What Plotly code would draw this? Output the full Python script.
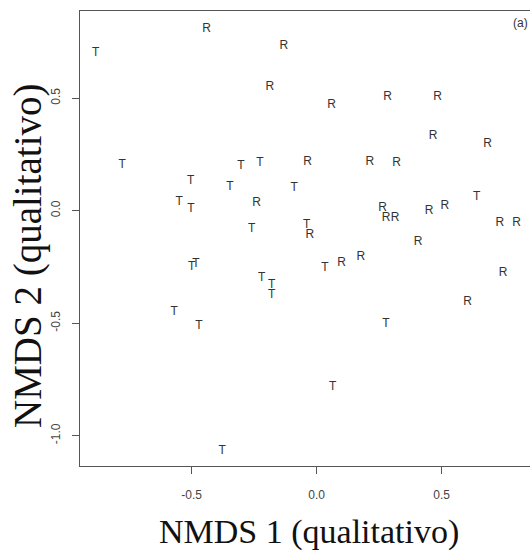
import plotly.graph_objects as go

# NMDS scores
t_x = [-0.884, -0.778, -0.504, -0.550, -0.503, -0.347, -0.303, -0.227, -0.260,
       -0.500, -0.483, -0.220, -0.180, -0.180, -0.090, 0.640, -0.040, 0.033,
       -0.570, -0.471, -0.378, 0.277, 0.064]
t_y = [0.700, 0.203, 0.132, 0.039, 0.006, 0.104, 0.199, 0.213, -0.081,
       -0.249, -0.238, -0.300, -0.330, -0.375, 0.100, 0.062, -0.064, -0.256,
       -0.452, -0.512, -1.068, -0.504, -0.782]

r_x = [-0.440, -0.131, -0.187, 0.060, 0.284, 0.484, 0.466, 0.684, -0.036,
       0.213, 0.320, -0.240, 0.264, 0.278, 0.314, 0.450, 0.513, 0.733, 0.800,
       -0.027, 0.406, 0.100, 0.177, 0.746, 0.604]
r_y = [0.806, 0.732, 0.551, 0.470, 0.507, 0.504, 0.332, 0.296, 0.215,
       0.215, 0.211, 0.033, 0.011, -0.031, -0.031, 0.000, 0.022, -0.053, -0.053,
       -0.108, -0.138, -0.234, -0.204, -0.278, -0.407]

x_ticks = [-0.5, 0.0, 0.5]
y_ticks = [-1.0, -0.5, 0.0, 0.5]

W, H = 530, 553
L, T, B, R = 80, 11, 87, 0
PW, PH = W - L - R, H - T - B


def px(xp):
    return (xp - L) / PW


def py(yp):
    return (H - B - yp) / PH


fig = go.Figure()
fig.add_trace(go.Scatter(x=t_x, y=t_y, mode="text", text=["T"] * len(t_x),
                         textposition="middle center",
                         textfont=dict(family="Liberation Sans", size=12, color="#333333"),
                         hoverinfo="skip", showlegend=False))
fig.add_trace(go.Scatter(x=r_x, y=r_y, mode="text", text=["R"] * len(r_x),
                         textposition="middle center",
                         textfont=dict(family="Liberation Sans", size=12, color="#333333"),
                         hoverinfo="skip", showlegend=False))

axis_common = dict(showgrid=False, zeroline=False, showline=True, linecolor="#555555",
                   linewidth=1.3, ticks="outside", ticklen=7, tickwidth=1, tickcolor="#555555",
                   tickfont=dict(family="Liberation Sans", size=12, color="#444444"))

fig.update_xaxes(range=[-0.9468, 0.8532], tickvals=x_ticks,
                 ticktext=[f"{v:.1f}" for v in x_ticks], mirror=True,
                 ticklabelstandoff=10, **axis_common)
fig.update_yaxes(range=[-1.1347, 0.8876], tickvals=y_ticks,
                 ticktext=[f"{v:.1f}" for v in y_ticks], mirror=False,
                 tickangle=-90, ticklabelstandoff=7, **axis_common)

fig.add_annotation(text="NMDS 1 (qualitativo)", xref="paper", yref="paper",
                   x=px(309), y=py(532), xanchor="center", yanchor="middle", showarrow=False,
                   font=dict(family="Liberation Serif", size=34, color="#111111"))
fig.add_annotation(text="NMDS 2 (qualitativo)", xref="paper", yref="paper",
                   x=px(28), y=py(256), xanchor="center", yanchor="middle", showarrow=False,
                   textangle=-90,
                   font=dict(family="Liberation Serif", size=39, color="#111111"))
fig.add_annotation(text="(a)", xref="paper", yref="paper",
                   x=px(530), y=py(23), xanchor="right", yanchor="middle", showarrow=False,
                   font=dict(family="Liberation Sans", size=12, color="#333333"))

fig.update_layout(width=W, height=H, margin=dict(l=L, r=R, t=T, b=B, pad=0),
                  plot_bgcolor="white", paper_bgcolor="white")

fig.write_html("out.html")
